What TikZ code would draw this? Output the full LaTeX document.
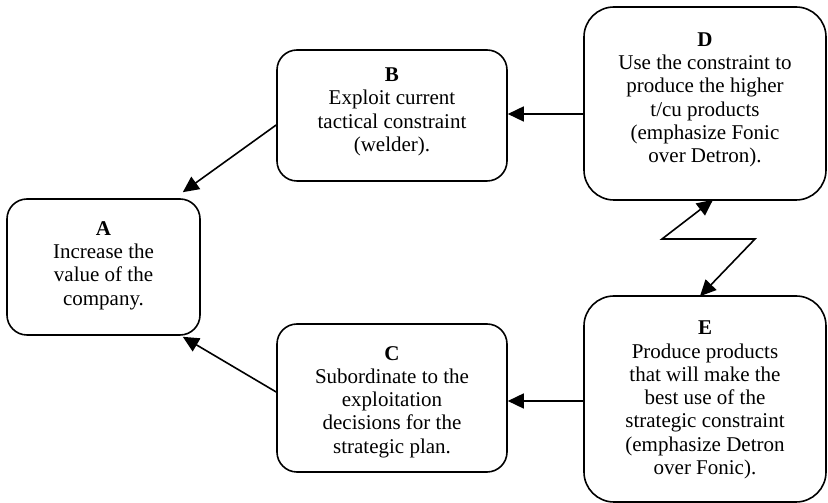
\documentclass[tikz,border=0pt]{standalone}
\usepackage{fontspec}
\setmainfont{Liberation Serif}
\usetikzlibrary{arrows.meta,calc}
\begin{document}
\begin{tikzpicture}[x=1pt,y=1pt,
  box/.style={draw=black,line width=1.6pt,rounded corners=20pt,inner sep=0pt},
  bigbox/.style={box,rounded corners=30pt},
  txt/.style={inner sep=0pt,align=center,font=\fontsize{21}{23.3}\selectfont},
  >={Triangle[length=16pt,width=15pt]},
  arr/.style={line width=1.6pt,->},
  twoarr/.style={line width=1.6pt,<->}]
\fill[white] (0,0) rectangle (828,503);
\useasboundingbox (0,0) rectangle (828,503);

% rounded boxes
\node[box,minimum width=193pt,minimum height=136pt] (A) at (103.5,236) {};
\node[box,minimum width=230pt,minimum height=131pt] (B) at (392,387.5) {};
\node[box,minimum width=230pt,minimum height=148pt] (C) at (392,105) {};
\node[bigbox,minimum width=242pt,minimum height=193pt] (D) at (705,399.5) {};
\node[bigbox,minimum width=242pt,minimum height=206pt] (E) at (705,104) {};

% box texts
\node[txt] (At) at ([yshift=1.5pt]A.center)
  {\textbf{A}\\Increase the\\value of the\\company.};
\node[txt] (Bt) at ([yshift=3.5pt]B.center)
  {\textbf{B}\\Exploit current\\tactical constraint\\(welder).};
\node[txt] (Ct) at ([yshift=-4pt]C.center)
  {\textbf{C}\\Subordinate to the\\exploitation\\decisions for the\\strategic plan.};
\node[txt] (Dt) at ([yshift=3.5pt]D.center)
  {\textbf{D}\\Use the constraint to\\produce the higher\\t/cu products\\(emphasize Fonic\\over Detron).};
\node[txt] (Et) at ([yshift=-1pt]E.center)
  {\textbf{E}\\Produce products\\that will make the\\best use of the\\strategic constraint\\(emphasize Detron\\over Fonic).};

% horizontal feeds into B and C
\coordinate (dbY) at (0,389);
\coordinate (ecY) at (0,102);
\draw[arr] (D.west |- dbY) -- (B.east |- dbY);
\draw[arr] (E.west |- ecY) -- (C.east |- ecY);

% diagonal feeds into A
\draw[arr] ($(B.west)+(0,-9.5)$) -- ($(A.north east)+(-18,6)$);
\draw[arr] ($(C.west)+(0,6)$) -- ($(A.south east)+(-18,-1)$);

% lightning link between D and E
\coordinate (z1) at (662,264);
\coordinate (z2) at (755,264);
\draw[twoarr] ($(D.south)+(8,1)$) -- (z1) -- (z2) -- ($(E.north)+(-5,-1)$);
\end{tikzpicture}
\end{document}
